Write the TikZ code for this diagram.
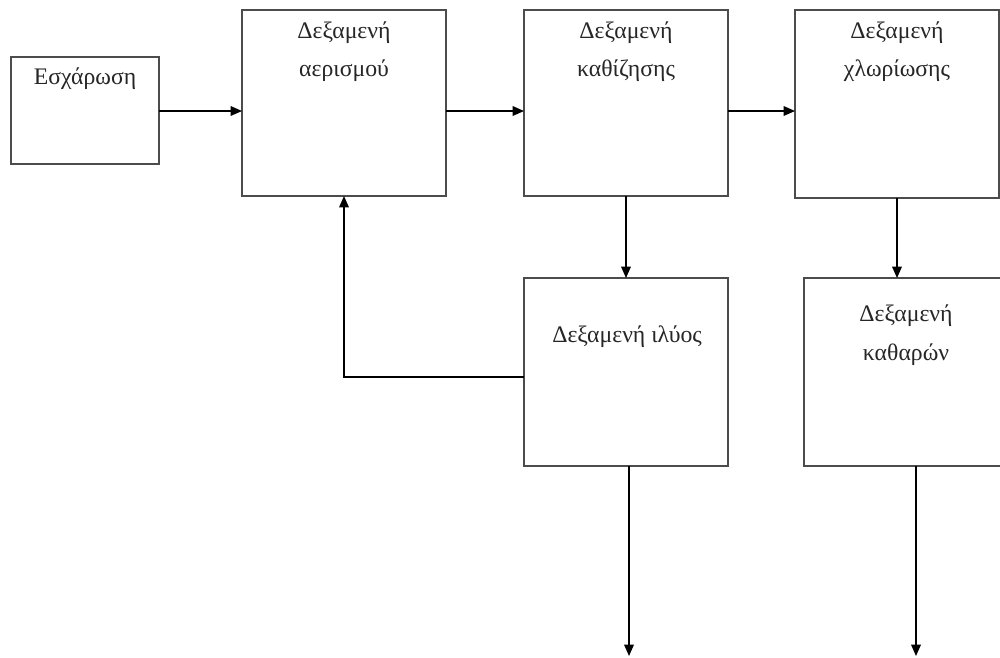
\documentclass[tikz,border=0pt]{standalone}
\usepackage{fontspec}
\setmainfont{Liberation Serif}
\usetikzlibrary{arrows.meta,calc}
\begin{document}
\begin{tikzpicture}[x=0.02cm,y=-0.02cm,
  tank/.style 2 args={draw=black!70, line width=0.8pt, inner sep=0pt, outer sep=0pt,
    minimum width=#1*0.02cm, minimum height=#2*0.02cm},
  txt/.style={anchor=base, text=black!85, font=\fontsize{13.5}{16}\selectfont, inner sep=0pt},
  flow/.style={draw=black, line width=0.8pt, -{Triangle[length=6.5pt,width=5.5pt]}},
  pipe/.style={draw=black!75, line width=0.8pt}]
\useasboundingbox (0,0) rectangle (1000,657);

% tanks
\node[tank={148}{107}] (esc)  at (85,110.5) {};
\node[tank={204}{186}] (aer)  at (344,103) {};
\node[tank={204}{186}] (kath) at (626,103) {};
\node[tank={204}{188}] (chl)  at (897,104) {};
\node[tank={204}{188}] (ily)  at (626,372) {};
\node[tank={200}{188}] (clr)  at (904,372) {};

% labels
\node[txt] (tEsc)  at (85,84)   {Εσχάρωση};
\node[txt] (tAer1) at (344,38)  {Δεξαμενή};
\node[txt] (tAer2) at (344,76)  {αερισμού};
\node[txt] (tKa1)  at (626,38)  {Δεξαμενή};
\node[txt] (tKa2)  at (626,76)  {καθίζησης};
\node[txt] (tCh1)  at (897,38)  {Δεξαμενή};
\node[txt] (tCh2)  at (897,76)  {χλωρίωσης};
\node[txt] (tIl)   at (627,342) {Δεξαμενή ιλύος};
\node[txt] (tCl1)  at (906,321) {Δεξαμενή};
\node[txt] (tCl2)  at (906,360) {καθαρών};

% main flow line
\coordinate (row) at (0,111);
\draw[flow] (esc.east |- row) -- (aer.west |- row);
\draw[flow] (aer.east |- row) -- (kath.west |- row);
\draw[flow] (kath.east |- row) -- (chl.west |- row);

% downward connections
\draw[flow] (kath.south) -- (ily.north);
\draw[flow] (chl.south) -- (chl.south |- clr.north);

% sludge return to aeration
\coordinate (ret) at (0,377);
\draw[flow] (ily.west |- ret) -| (aer.south);

% outlets
\coordinate (outA) at (629,466);
\coordinate (outAend) at (629,656);
\coordinate (outB) at (916,466);
\coordinate (outBend) at (916,656);
\draw[flow] (outA) -- (outAend);
\draw[flow] (outB) -- (outBend);
\end{tikzpicture}
\end{document}
